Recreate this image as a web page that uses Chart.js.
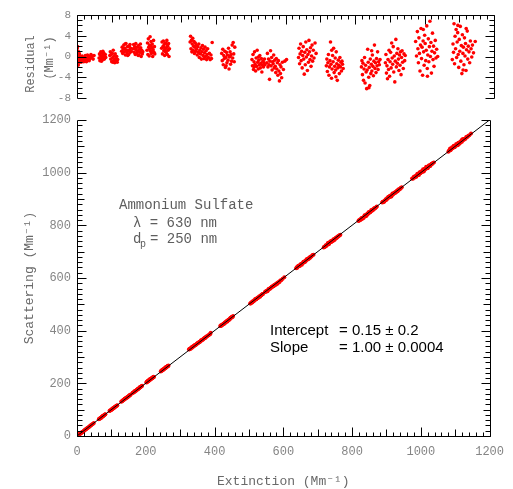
<!DOCTYPE html>
<html><head><meta charset="utf-8">
<script src="https://cdn.jsdelivr.net/npm/chart.js@4.4.1/dist/chart.umd.min.js"></script>
<style>
html,body{margin:0;padding:0;background:#fff;}
#wrap{position:relative;width:513px;height:489px;}
#wrap canvas{position:absolute;left:0;top:0;}
</style></head><body>
<div id="wrap"><canvas id="res" width="513" height="489"></canvas><canvas id="main" width="513" height="489"></canvas></div>
<script>
// ---- Fit results (from the chart annotation) ----
const INTERCEPT = 0.15;
const SLOPE = 1.00;

// ---- Axis ranges / tick labels ----
const extTicks = [0,200,400,600,800,1000,1200];
const scatTicks = [0,200,400,600,800,1000,1200];
const residTicks = [-8,-4,0,4,8];

// ---- Measurements: [extinction (Mm-1), residual (Mm-1)] per sampling step ----
const c01 = [[0.5,1.6],[1.2,-0.8],[2.0,0.4],[2.8,-1.5],[3.5,1.0],[4.1,-0.3],[4.9,0.7],[5.6,-1.1],[6.3,0.2],[7.0,-0.6],[1.8,1.9],[3.0,-1.7],[5.2,0.1],[6.8,0.5],[0.9,-0.2]];
const c02 = [[8.5,-0.9],[10.2,-0.3],[11.8,-1.1],[13.1,-0.6],[14.7,0.1],[16.0,-0.8],[17.6,-0.4],[19.3,-1.0],[20.8,-0.2],[22.4,-0.7],[24.0,0.2],[25.5,-0.5],[27.1,-1.0],[28.8,-0.3],[30.2,0.3],[31.9,-0.6],[33.5,-0.1],[35.0,-0.8],[36.8,0.0],[38.3,-0.4],[40.1,0.4],[42.0,-0.2],[44.2,0.1],[46.5,-0.5],[49.0,0.2]];
const c03 = [[63.5,-0.3],[64.8,0.5],[66.0,-0.8],[67.3,0.2],[68.5,0.9],[69.9,-0.4],[71.2,0.1],[72.4,0.7],[73.8,-0.6],[75.0,0.3],[76.3,-0.1],[77.5,0.6],[78.9,-0.5],[80.1,0.0],[81.4,0.4],[82.6,-0.2],[70.5,-0.9],[74.6,1.0]];
const c04 = [[94.5,0.2],[95.8,0.9],[97.2,-0.5],[98.6,0.4],[100.0,-1.0],[101.5,0.6],[102.9,-0.2],[104.3,1.2],[105.8,-0.7],[107.1,0.1],[108.6,-1.2],[110.0,0.5],[111.4,-0.4],[112.9,-0.9],[114.3,0.0],[115.7,-1.1],[117.2,-0.6],[103.5,-1.1]];
const c05 = [[128.5,1.0],[130.0,1.8],[131.6,0.6],[133.1,1.4],[134.7,2.2],[136.2,0.9],[137.8,1.6],[139.3,0.3],[140.9,2.5],[142.4,1.2],[144.0,0.7],[145.5,1.9],[147.1,1.1],[148.6,0.4],[150.2,2.0],[151.7,1.3],[153.3,0.8],[154.8,1.6],[156.4,1.0],[138.5,2.4],[146.0,0.2],[152.5,2.3]];
const c06 = [[161.5,1.5],[163.0,2.3],[164.6,0.8],[166.1,1.9],[167.7,0.4],[169.2,2.5],[170.8,1.2],[172.3,0.6],[173.9,1.8],[175.4,1.0],[177.0,2.1],[178.5,0.3],[180.1,1.4],[181.6,0.8],[183.2,1.7],[184.7,0.0],[186.3,1.2],[187.8,0.5],[189.4,0.9],[168.0,1.5],[176.0,0.2],[182.5,2.4]];
const c07 = [[201.5,1.2],[202.8,2.6],[204.0,0.4],[205.3,3.4],[206.5,1.8],[207.8,0.1],[209.0,2.2],[210.3,3.8],[211.5,1.0],[212.8,2.9],[214.0,0.6],[215.3,1.6],[216.5,2.4],[217.8,0.0],[219.0,1.3],[220.3,3.1],[221.5,0.8],[222.8,1.9],[223.8,0.5],[208.5,1.5],[213.5,2.0],[218.5,0.9]];
const c08 = [[243.5,1.6],[244.8,2.8],[246.0,0.5],[247.3,1.9],[248.5,3.0],[249.8,1.1],[251.0,2.3],[252.3,0.2],[253.5,1.4],[254.8,2.6],[256.0,0.8],[257.3,1.7],[258.5,3.1],[259.8,0.4],[261.0,2.0],[262.3,1.2],[263.5,2.5],[264.8,0.0],[266.0,1.5],[250.5,1.8],[255.5,0.9],[260.5,2.2]];
const c09 = [[325.5,2.8],[326.8,3.9],[328.0,1.5],[329.2,3.1],[330.5,0.9],[331.7,2.4],[333.0,3.5],[334.2,1.2],[335.5,2.0],[336.7,2.9],[338.0,0.6],[339.2,1.8],[340.5,2.6],[341.7,1.0],[343.0,2.2],[344.2,1.4],[346.0,0.3],[347.5,1.9],[349.0,0.8],[350.5,2.4],[352.0,-0.2],[353.5,1.2],[355.0,0.5],[356.5,1.7],[358.0,-0.5],[359.5,0.9],[361.0,2.1],[362.5,0.2],[364.0,1.4],[365.5,-0.4],[367.0,0.7],[368.5,1.8],[370.0,0.0],[371.5,1.1],[373.0,-0.6],[374.5,0.4],[376.0,1.5],[378.0,-0.2],[381.0,0.6],[383.0,-0.6],[385.5,0.3],[387.0,-0.4],[389.0,2.7]];
const c10 = [[416.5,0.6],[418.0,-0.8],[419.5,1.4],[421.0,-1.6],[422.5,0.2],[424.0,-0.4],[425.5,1.0],[427.0,-2.1],[428.5,-0.2],[430.0,0.8],[431.5,-1.2],[433.0,0.3],[434.5,-0.7],[436.0,1.6],[437.5,-2.4],[439.0,-0.1],[440.5,0.9],[442.0,-1.5],[443.5,0.4],[445.0,-0.9],[446.5,2.2],[448.0,-0.3],[449.5,2.7],[451.0,0.5],[452.5,-1.0],[454.0,1.8],[429.0,-1.8],[441.0,0.1]];
const c11 = [[503.5,-0.6],[505.0,-1.8],[506.5,0.4],[508.0,-2.5],[509.5,-1.0],[511.0,0.9],[512.5,-1.5],[514.0,-2.8],[515.5,-0.3],[517.0,-1.9],[518.5,1.2],[520.0,-1.1],[521.5,-2.4],[523.0,-0.7],[524.5,-1.6],[526.0,0.2],[527.5,-2.2],[529.0,-1.3],[530.5,-0.4],[532.0,-3.0],[533.5,-1.7],[535.0,-0.9],[536.5,-2.0],[538.0,-1.2],[539.5,-0.5],[541.0,-1.6],[510.0,-2.0],[522.0,-0.1]];
const c12 = [[546.5,-1.2],[548.0,0.6],[549.5,-2.0],[551.0,-0.5],[552.5,-1.6],[554.0,-4.4],[555.5,-0.9],[557.0,1.1],[558.5,-1.8],[560.0,-0.2],[561.5,-2.6],[563.0,-1.0],[564.5,-1.4],[566.0,0.3],[567.5,-2.2],[569.0,-0.7],[570.5,-1.9],[572.0,-3.1],[573.5,-0.4],[575.0,-2.4],[576.5,-1.2],[578.0,-3.6],[579.5,-0.8],[581.0,-2.8],[582.5,-4.7],[584.0,-1.6],[585.5,-3.3],[587.0,-2.0],[589.0,-4.1],[591.0,-1.1],[594.0,-2.5],[598.0,-0.9],[603.0,-0.6]];
const c13 = [[637.5,-0.2],[639.0,1.6],[640.5,-1.4],[642.0,0.5],[643.5,2.4],[645.0,-0.8],[646.5,1.0],[648.0,-2.2],[649.5,0.2],[651.0,1.9],[652.5,-0.5],[654.0,-3.4],[655.5,0.8],[657.0,-1.6],[658.5,2.8],[660.0,-0.1],[661.5,1.3],[663.0,-2.7],[664.5,0.4],[666.0,-1.1],[667.5,3.1],[669.0,0.9],[670.5,-0.6],[672.0,1.7],[673.5,-1.9],[675.0,0.1],[676.5,2.2],[678.0,-0.9],[680.0,1.2],[682.0,-0.3],[685.0,2.6],[688.0,0.6]];
const c14 = [[717.5,-1.8],[719.0,-0.5],[720.5,-2.9],[722.0,-1.2],[723.5,0.4],[725.0,-3.6],[726.5,-2.0],[728.0,-0.8],[729.5,2.8],[731.0,-1.5],[732.5,-4.2],[734.0,-2.4],[735.5,0.2],[737.0,-1.0],[738.5,1.6],[740.0,-3.1],[741.5,-1.9],[743.0,-0.3],[744.5,-2.6],[746.0,0.9],[747.5,-1.4],[749.0,-4.6],[750.5,-2.2],[752.0,-0.7],[753.5,-1.7],[755.0,-3.3],[756.5,-0.2],[758.0,-2.0],[759.5,-1.1],[761.0,-2.8],[762.5,-0.9],[764.0,-1.5],[766.0,-2.3],[733.0,1.2],[745.0,-3.9]];
const c15 = [[818.5,-2.0],[820.0,-0.8],[821.5,-3.5],[823.0,-1.3],[824.5,-4.6],[826.0,-2.4],[827.5,-0.2],[829.0,-5.1],[830.5,-1.7],[832.0,-3.0],[833.5,-6.2],[835.0,-2.6],[836.5,1.4],[838.0,-1.1],[839.5,-4.0],[841.0,-2.1],[842.5,-5.6],[844.0,-0.5],[845.5,-3.3],[847.0,-1.5],[848.5,-2.8],[850.0,0.3],[851.5,-1.9],[853.0,-3.7],[854.5,-0.9],[856.0,2.2],[857.5,-2.3],[859.0,-1.2],[860.5,-3.1],[862.0,-0.4],[863.5,-1.8],[865.0,0.9],[866.5,-2.5],[868.0,-1.0],[870.0,-1.6],[872.0,-0.6],[840.0,-6.0],[848.0,1.1]];
const c16 = [[887.5,-1.2],[889.0,0.4],[890.5,-3.2],[892.0,-1.8],[893.5,-4.3],[895.0,-0.6],[896.5,-2.5],[898.0,1.2],[899.5,-3.8],[901.0,-1.0],[902.5,0.8],[904.0,-2.2],[905.5,2.6],[907.0,-0.3],[908.5,-1.5],[910.0,1.9],[911.5,-3.0],[913.0,0.1],[914.5,-4.9],[916.0,-0.9],[917.5,3.3],[919.0,-2.0],[920.5,0.6],[922.0,-1.3],[923.5,1.5],[925.0,-0.5],[926.5,-2.7],[928.0,0.3],[929.5,-1.7],[931.0,0.9],[932.5,-3.5],[934.0,-0.2],[935.5,1.1],[937.0,-1.1],[939.0,-2.3],[941.0,0.5],[943.0,-0.8],[944.5,0.2]];
const c17 = [[974.5,2.9],[977.0,0.1],[979.5,4.8],[981.0,1.5],[982.5,-1.2],[984.0,3.6],[985.5,0.6],[987.0,-2.8],[988.5,2.2],[990.0,5.4],[991.5,-0.4],[993.0,1.8],[994.5,-3.6],[996.0,3.0],[997.5,0.9],[999.0,-1.7],[1000.5,4.1],[1002.0,2.5],[1003.5,-0.8],[1005.0,1.2],[1006.5,5.9],[1008.0,-2.3],[1009.5,0.3],[1011.0,3.4],[1012.5,-1.0],[1014.0,1.9],[1015.5,6.8],[1017.0,0.0],[1018.5,2.7],[1020.0,-3.2],[1021.5,1.0],[1023.0,4.5],[1024.5,-0.6],[1026.0,2.0],[1027.5,-1.9],[1029.0,0.7],[1031.0,3.1],[1033.0,-0.3],[1035.0,1.4],[1038.0,0.0],[996.5,5.2],[1008.5,-3.8]];
const c18 = [[1080.0,-0.6],[1082.0,2.4],[1083.5,0.8],[1085.0,6.3],[1086.5,-1.4],[1088.0,3.9],[1089.5,1.5],[1091.0,5.2],[1092.5,-0.2],[1094.0,2.8],[1095.5,4.6],[1097.0,0.4],[1098.5,-2.1],[1100.0,3.3],[1101.5,1.0],[1103.0,5.8],[1104.5,-0.9],[1106.0,2.1],[1107.5,-3.3],[1109.0,4.2],[1110.5,0.6],[1112.0,1.8],[1113.5,-1.6],[1115.0,3.6],[1116.5,0.1],[1118.0,2.5],[1119.5,-2.7],[1121.0,1.3],[1123.0,4.9],[1124.5,-0.5],[1126.0,2.0],[1128.0,0.9],[1130.0,-1.2],[1132.0,3.0],[1134.0,1.5],[1136.0,-0.1],[1138.0,2.2],[1141.0,0.7],[1146.0,2.9],[1096.0,6.0],[1111.0,-2.6],[1120.0,5.4]];

const measurements = [c01,c02,c03,c04,c05,c06,c07,c08,c09,c10,c11,c12,c13,c14,c15,c16,c17,c18].flat();

// residual = scattering - (intercept + slope*extinction), so scattering follows from it
const residualPoints = measurements.map(p => ({x: p[0], y: p[1]}));
const scatteringPoints = measurements.map(p => ({x: p[0], y: INTERCEPT + SLOPE * p[0] + p[1]}));
const fitLine = [{x: 0, y: INTERCEPT}, {x: 1200, y: INTERCEPT + SLOPE * 1200}];

const MONO = '"Liberation Mono", "DejaVu Sans Mono", monospace';
const LABEL_GRAY = '#858585';
const TITLE_GRAY = '#6a6a6a';
const plainTick = v => String(v);

function framePlugin(cfg) {
  return {
    id: 'frame_' + cfg.name,
    afterDraw(chart) {
      const ctx = chart.ctx;
      const {left, right, top, bottom} = chart.chartArea;
      const xs = chart.scales.x, ys = chart.scales.y;
      const L = Math.round(left) + 0.5, R = Math.round(right) + 0.5;
      const T = Math.round(top) + 0.5, B = Math.round(bottom) + 0.5;
      ctx.save();
      ctx.strokeStyle = '#000';
      ctx.lineWidth = 1;
      ctx.beginPath();
      ctx.moveTo(L, T); ctx.lineTo(L, B);
      ctx.moveTo(R, T); ctx.lineTo(R, B);
      const edgeY = cfg.xEdge === 'top' ? T : B;
      const dir = cfg.xEdge === 'top' ? 1 : -1;
      ctx.moveTo(L, edgeY); ctx.lineTo(R, edgeY);
      for (let v = ys.min; v <= ys.max + 1e-9; v += cfg.yMinor) {
        const py = Math.round(ys.getPixelForValue(v)) + 0.5;
        const isMajor = Math.abs(v / cfg.yMajor - Math.round(v / cfg.yMajor)) < 1e-6;
        const isMid = cfg.yMid && Math.abs(v / cfg.yMid - Math.round(v / cfg.yMid)) < 1e-6;
        const len = isMajor ? 9 : (isMid ? 7 : 5);
        ctx.moveTo(L, py); ctx.lineTo(L + len, py);
        ctx.moveTo(R, py); ctx.lineTo(R - len, py);
      }
      for (let v = xs.min; v <= xs.max + 1e-9; v += 20) {
        const px = Math.round(xs.getPixelForValue(v)) + 0.5;
        const len = (v % 200 === 0) ? 9 : (v % 100 === 0 ? 7 : 4);
        ctx.moveTo(px, edgeY); ctx.lineTo(px, edgeY + dir * len);
      }
      ctx.stroke();
      ctx.restore();
      if (cfg.after) cfg.after(chart);
    }
  };
}

Chart.defaults.animation = false;

// ---------- Residual panel ----------
new Chart(document.getElementById('res'), {
  type: 'scatter',
  data: { datasets: [{
    data: residualPoints, backgroundColor: '#ff0000', borderWidth: 0, pointRadius: 1.8, pointHoverRadius: 1.8
  }]},
  options: {
    responsive: false, devicePixelRatio: 1,
    layout: { padding: { left: 0, top: 15, right: 19, bottom: 0 } },
    plugins: { legend: { display: false }, tooltip: { enabled: false } },
    scales: {
      x: { type: 'linear', min: 0, max: 1200,
        ticks: { display: false }, grid: { display: false, drawTicks: false }, border: { display: false },
        afterFit: s => { s.height = 391; } },
      y: { type: 'linear', min: -8, max: 8,
        afterBuildTicks: s => { s.ticks = residTicks.map(v => ({value: v})); },
        ticks: { color: LABEL_GRAY, font: { family: MONO, size: 11 }, padding: 6, callback: plainTick },
        grid: { display: false, drawTicks: false }, border: { display: false },
        afterFit: s => { s.width = 77; } }
    }
  },
  plugins: [framePlugin({ name: 'res', xEdge: 'top', yMinor: 1, yMajor: 4, after(chart) {
    const ctx = chart.ctx;
    ctx.save();
    ctx.fillStyle = TITLE_GRAY;
    ctx.font = '12px ' + MONO;
    ctx.textAlign = 'center'; ctx.textBaseline = 'middle';
    ctx.translate(31, 64); ctx.rotate(-Math.PI / 2);
    ctx.fillText('Residual', 0, 0);
    ctx.restore();
    ctx.save();
    ctx.fillStyle = TITLE_GRAY;
    ctx.font = '12px ' + MONO;
    ctx.textAlign = 'center'; ctx.textBaseline = 'middle';
    ctx.translate(50, 58); ctx.rotate(-Math.PI / 2);
    ctx.fillText('(Mm\u207B\u00B9)', 0, 0);
    ctx.restore();
  }})]
});

// ---------- Main panel ----------
new Chart(document.getElementById('main'), {
  type: 'scatter',
  data: { datasets: [
    { data: fitLine, showLine: true, borderColor: '#000', borderWidth: 1, pointRadius: 0, order: 0 },
    { data: scatteringPoints, backgroundColor: '#ff0000', borderWidth: 0, pointRadius: 2, pointHoverRadius: 2, order: 1 }
  ]},
  options: {
    responsive: false, devicePixelRatio: 1,
    layout: { padding: { left: 0, top: 120, right: 19, bottom: 0 } },
    plugins: { legend: { display: false }, tooltip: { enabled: false } },
    scales: {
      x: { type: 'linear', min: 0, max: 1200,
        afterBuildTicks: s => { s.ticks = extTicks.map(v => ({value: v})); },
        ticks: { color: LABEL_GRAY, font: { family: MONO, size: 12 }, padding: 9, maxRotation: 0, callback: plainTick },
        grid: { display: false, drawTicks: false }, border: { display: false },
        title: { display: true, text: 'Extinction (Mm\u207B\u00B9)', color: TITLE_GRAY,
          font: { family: MONO, size: 13 }, padding: { top: 0, bottom: 0 } },
        afterFit: s => { s.height = 53; } },
      y: { type: 'linear', min: 0, max: 1200,
        afterBuildTicks: s => { s.ticks = scatTicks.map(v => ({value: v})); },
        ticks: { color: LABEL_GRAY, font: { family: MONO, size: 12 }, padding: 6, callback: plainTick },
        grid: { display: false, drawTicks: false }, border: { display: false },
        title: { display: true, text: 'Scattering (Mm\u207B\u00B9)', color: TITLE_GRAY,
          font: { family: MONO, size: 13 }, padding: { top: 22, bottom: 0 } },
        afterFit: s => { s.width = 77; } }
    }
  },
  plugins: [framePlugin({ name: 'main', xEdge: 'bottom', yMinor: 20, yMajor: 200, yMid: 100, after(chart) {
    const ctx = chart.ctx;
    ctx.save();
    ctx.textAlign = 'left'; ctx.textBaseline = 'alphabetic';
    ctx.fillStyle = '#5e5e5e';
    ctx.font = '14px ' + MONO;
    ctx.fillText('Ammonium Sulfate', 119, 209);
    ctx.fillText('\u03BB = 630 nm', 133, 227);
    ctx.fillText('d', 133, 243);
    ctx.fillText('= 250 nm', 150, 243);
    ctx.font = '10px ' + MONO;
    ctx.fillText('p', 140, 247);
    ctx.fillStyle = '#000';
    ctx.font = '15px "Liberation Sans", Arial, sans-serif';
    ctx.fillText('Intercept', 270, 335);
    ctx.fillText('= 0.15 \u00B1 0.2', 339, 335);
    ctx.fillText('Slope', 270, 352);
    ctx.fillText('= 1.00 \u00B1 0.0004', 339, 352);
    ctx.restore();
  }})]
});
</script>
</body></html>
